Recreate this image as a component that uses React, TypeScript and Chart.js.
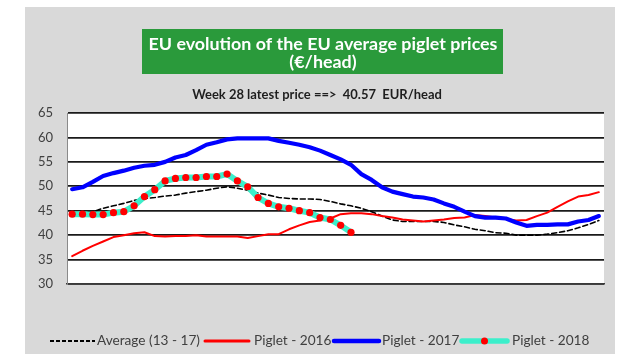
import React, { useEffect, useRef } from "react";
import { Chart, registerables } from "chart.js";

Chart.register(...registerables);

// ---- Data ----
const weeks: string[] = [
  "1","2","3","4","5","6","7","8","9","10","11","12","13","14","15","16","17","18","19","20",
  "21","22","23","24","25","26","27","28","29","30","31","32","33","34","35","36","37","38","39","40",
  "41","42","43","44","45","46","47","48","49","50","51","52",
];

const average1317: number[] = [
  44.5, 44.6, 44.8, 45.5, 46.0, 46.5, 47.1, 47.5, 47.7, 48.0,
  48.2, 48.6, 48.9, 49.2, 49.6, 49.9, 49.6, 49.2, 48.6, 48.2,
  47.7, 47.5, 47.4, 47.4, 47.3, 46.9, 46.4, 46.0, 45.5, 44.8,
  43.9, 43.1, 42.8, 42.8, 42.8, 42.8, 42.6, 42.1, 41.7, 41.2,
  40.9, 40.5, 40.4, 40.0, 40.0, 40.0, 40.2, 40.5, 40.9, 41.5,
  42.2, 43.0,
];

const piglet2016: number[] = [
  35.7, 36.8, 37.8, 38.7, 39.6, 40.0, 40.4, 40.6, 39.8, 39.7,
  39.8, 39.8, 40.0, 39.7, 39.7, 39.7, 39.7, 39.4, 39.8, 40.2,
  40.2, 41.2, 42.0, 42.7, 43.0, 43.4, 44.3, 44.5, 44.5, 44.3,
  43.9, 43.6, 43.2, 43.0, 42.8, 43.0, 43.2, 43.5, 43.6, 44.1,
  43.9, 43.6, 43.3, 43.0, 43.1, 43.9, 44.6, 45.8, 46.9, 47.9,
  48.2, 48.8,
];

const piglet2017: number[] = [
  49.4, 49.8, 50.9, 52.1, 52.7, 53.2, 53.8, 54.2, 54.4, 55.0,
  55.9, 56.4, 57.4, 58.5, 59.0, 59.6, 59.8, 59.8, 59.8, 59.8,
  59.3, 58.9, 58.5, 58.0, 57.3, 56.4, 55.5, 54.4, 52.5, 51.3,
  49.8, 48.9, 48.4, 47.9, 47.7, 47.3, 46.5, 45.8, 44.8, 43.9,
  43.6, 43.6, 43.4, 42.6, 41.9, 42.1, 42.1, 42.2, 42.2, 42.8,
  43.1, 43.9,
];

const piglet2018: number[] = [
  44.3, 44.3, 44.2, 44.2, 44.6, 44.8, 46.0, 47.9, 49.3, 51.1,
  51.6, 51.8, 51.8, 52.0, 52.0, 52.5, 51.1, 49.9, 47.7, 46.5,
  45.8, 45.5, 45.0, 44.6, 43.6, 43.2, 42.0, 40.57,
];

const seriesNames: string[] = ["Average (13 - 17)", "Piglet - 2016", "Piglet - 2017", "Piglet - 2018"];
const yMin = 30;
const yMax = 65;
const yStep = 5;

const titleLines: string[] = ["EU evolution of the EU average piglet prices", "(€/head)"];
const subtitle = `Week ${piglet2018.length} latest price ==>  ${piglet2018[piglet2018.length - 1].toFixed(2)}  EUR/head`;

// ---- Styles ----
const GRAY_BG = "#d9d9d9";
const GREEN = "#2a9a3b";
const CYAN = "#3cefcb";
const FONT = "Lato, 'Open Sans', 'DejaVu Sans', sans-serif";

function fitFont(ctx: CanvasRenderingContext2D, text: string, weight: string, target: number) {
  ctx.font = `${weight} 20px ${FONT}`;
  const w = ctx.measureText(text).width;
  const size = (20 * target) / w;
  return `${weight} ${size.toFixed(2)}px ${FONT}`;
}

const decorPlugin = {
  id: "decor",
  beforeDraw(chart: any) {
    const ctx: CanvasRenderingContext2D = chart.ctx;
    const { width, height, chartArea } = chart;
    ctx.save();
    ctx.fillStyle = "#ffffff";
    ctx.fillRect(0, 0, width, height);
    ctx.fillStyle = GRAY_BG;
    ctx.fillRect(25, 7, 590, 347);
    ctx.fillStyle = "#ffffff";
    ctx.fillRect(chartArea.left, chartArea.top, chartArea.right - chartArea.left, chartArea.bottom - chartArea.top);

    // title box
    ctx.fillStyle = GREEN;
    ctx.fillRect(142, 29, 361, 45);
    ctx.fillStyle = "#ffffff";
    ctx.textAlign = "center";
    ctx.textBaseline = "middle";
    const tf = fitFont(ctx, titleLines[0], "bold", 349);
    ctx.font = tf;
    ctx.fillText(titleLines[0], 323, 44);
    ctx.fillText(titleLines[1], 323, 62);

    // subtitle
    ctx.fillStyle = "#1e1e1e";
    ctx.font = fitFont(ctx, subtitle, "bold", 250);
    ctx.fillText(subtitle, 317, 95);
    ctx.restore();
  },
  afterDraw(chart: any) {
    const ctx: CanvasRenderingContext2D = chart.ctx;
    ctx.save();
    const y = 341;
    ctx.font = fitFont(ctx, seriesNames[0], "normal", 103);
    ctx.textAlign = "left";
    ctx.textBaseline = "middle";
    ctx.lineCap = "butt";
    const items = [
      { x0: 50, x1: 95, tx: 97, color: "#000000", w: 2, dash: [4, 2] },
      { x0: 205, x1: 249, tx: 254, color: "#ff0000", w: 3, dash: [] },
      { x0: 334, x1: 379, tx: 382, color: "#0000ff", w: 4.5, dash: [] },
      { x0: 462, x1: 507, tx: 512, color: CYAN, w: 5.5, dash: [] },
    ];
    items.forEach((it, i) => {
      ctx.beginPath();
      ctx.setLineDash(it.dash);
      ctx.strokeStyle = it.color;
      ctx.lineWidth = it.w;
      ctx.lineCap = i === 0 ? "butt" : "round";
      ctx.moveTo(it.x0, y);
      ctx.lineTo(it.x1, y);
      ctx.stroke();
      ctx.setLineDash([]);
      if (i === 3) {
        ctx.beginPath();
        ctx.fillStyle = "#ff0000";
        ctx.arc((it.x0 + it.x1) / 2, y, 3.5, 0, Math.PI * 2);
        ctx.fill();
      }
      ctx.fillStyle = "#404040";
      ctx.fillText(seriesNames[i], it.tx, y);
    });
    ctx.restore();
  },
};

export default function App() {
  const canvasRef = useRef<HTMLCanvasElement | null>(null);

  useEffect(() => {
    const canvas = canvasRef.current;
    if (!canvas) return;
    const chart = new Chart(canvas, {
      type: "line",
      data: {
        labels: weeks,
        datasets: [
          {
            label: seriesNames[0],
            data: average1317,
            borderColor: "#000000",
            borderWidth: 1.6,
            borderDash: [5, 3],
            pointRadius: 0,
            tension: 0,
            order: 3,
          },
          {
            label: seriesNames[1],
            data: piglet2016,
            borderColor: "#ff0000",
            borderWidth: 2,
            pointRadius: 0,
            tension: 0,
            order: 2,
          },
          {
            label: seriesNames[2],
            data: piglet2017,
            borderColor: "#0000ff",
            borderWidth: 4.2,
            pointRadius: 0,
            tension: 0,
            order: 1,
          },
          {
            label: seriesNames[3],
            data: piglet2018,
            borderColor: CYAN,
            borderWidth: 6,
            pointRadius: 3.6,
            pointBackgroundColor: "#ff0000",
            pointBorderWidth: 0,
            tension: 0,
            order: 0,
          },
        ],
      },
      options: {
        animation: false,
        responsive: false,
        events: [],
        layout: { padding: { left: 0, top: 113, right: 31, bottom: 73 } },
        plugins: {
          legend: { display: false },
          title: { display: false },
          tooltip: { enabled: false },
        },
        elements: { line: { borderCapStyle: "round", borderJoinStyle: "round" } },
        scales: {
          x: {
            offset: true,
            grid: { display: false, drawTicks: false },
            border: { display: true, color: "#3a3a3a", width: 1.5 },
            ticks: { display: false },
            afterFit: (s: any) => {
              s.height = 0;
            },
          },
          y: {
            min: yMin,
            max: yMax,
            grid: { color: "#1a1a1a", lineWidth: 1.8, drawTicks: false },
            border: { display: true, color: "#8a8a8a", width: 1 },
            ticks: {
              stepSize: yStep,
              padding: 14,
              color: "#404040",
              font: { family: FONT, size: 13 },
            },
            afterFit: (s: any) => {
              s.width = 67;
            },
          },
        },
      },
      plugins: [decorPlugin],
    });
    return () => chart.destroy();
  }, []);

  return (
    <div style={{ position: "fixed", left: 0, top: 0, width: 635, height: 357, background: "#fff" }}>
      <canvas ref={canvasRef} width={635} height={357} style={{ display: "block", width: 635, height: 357 }} />
    </div>
  );
}
